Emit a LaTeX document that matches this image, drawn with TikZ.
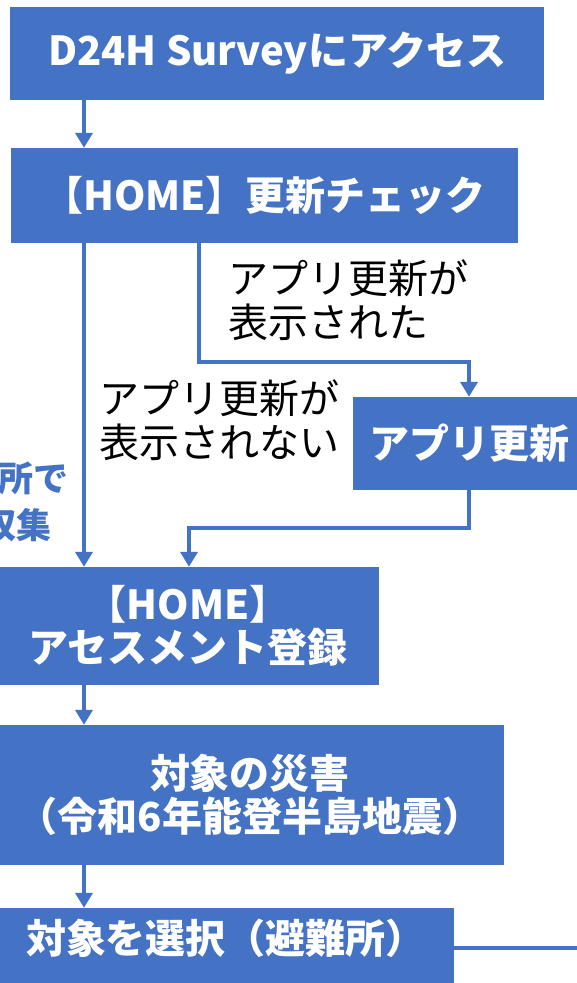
\documentclass[tikz,border=0pt]{standalone}
\usepackage{fontspec}
\setmainfont{Noto Sans CJK JP}
\usepackage{xcolor}
\usetikzlibrary{arrows.meta,positioning}
\definecolor{officeblue}{HTML}{4472C4}

\begin{document}
\begin{tikzpicture}[
      x=1pt, y=-1pt,
      stepbox/.style={rectangle, fill=officeblue, text=white, inner sep=0pt, align=center,
        font=\bfseries\fontsize{40}{43}\selectfont},
      note/.style={inner sep=0pt, align=left, font=\fontsize{40}{44}\selectfont},
      sidenote/.style={inner sep=0pt, anchor=east, text=officeblue, font=\bfseries\fontsize{35}{40}\selectfont},
      flow/.style={draw=officeblue, line width=4.5pt, -{Triangle[width=17pt,length=15pt]}},
      link/.style={draw=officeblue, line width=4.5pt}
    ]
      \fill[white] (0,0) rectangle (577,983);
      \useasboundingbox (0,0) rectangle (577,983);
      % Boxes
      \node[stepbox, minimum width=534pt, minimum height=93pt] (access) at (277,53.5) {D24H Surveyにアクセス};
      \node[stepbox, minimum width=507pt, minimum height=95pt] (check) at (264.5,195.5) {【HOME】更新チェック};
      \node[stepbox, minimum width=232pt, minimum height=93pt] (update) at (469,443.5) {アプリ更新};
      \node[stepbox, minimum width=382pt, minimum height=118pt] (home) at (188,626) {【HOME】\\アセスメント登録};
      \node[stepbox, minimum width=508pt, minimum height=140pt] (disaster) at (250,795) {対象の災害\\（令和6年能登半島地震）};
      \node[stepbox, minimum width=456pt, text height=45pt, text depth=35pt] (target) at (226,948) {対象を選択（避難所）};
      % Branch labels
      \node[note, anchor=west] (shown) at (228,300) {アプリ更新が\\表示された};
      \node[note, anchor=west] (hidden) at (99,420) {アプリ更新が\\表示されない};
      % Cut-off note at the left edge
      \node[sidenote] (site) at (69,478) {所で};
      \node[sidenote] (collect) at (52,525) {収集};
      % Connectors
      \coordinate (lx) at (84,0);
      \coordinate (bend1) at (199,362);
      \coordinate (bend2) at (189,528);
      \coordinate (exit) at (620,948);
      \draw[flow] (access.south -| lx) -- (check.north -| lx);
      \draw[flow] (check.south -| lx) -- (home.north -| lx);
      \draw[flow] (check.south -| bend1) -- (bend1) -| (update.north);
      \draw[flow] (update.south) |- (bend2) -- (home.north -| bend2);
      \draw[flow] (home.south -| lx) -- (disaster.north -| lx);
      \draw[flow] (disaster.south -| lx) -- (target.north -| lx);
      \draw[link] (target.east) -- (exit);
    \end{tikzpicture}
\end{document}
